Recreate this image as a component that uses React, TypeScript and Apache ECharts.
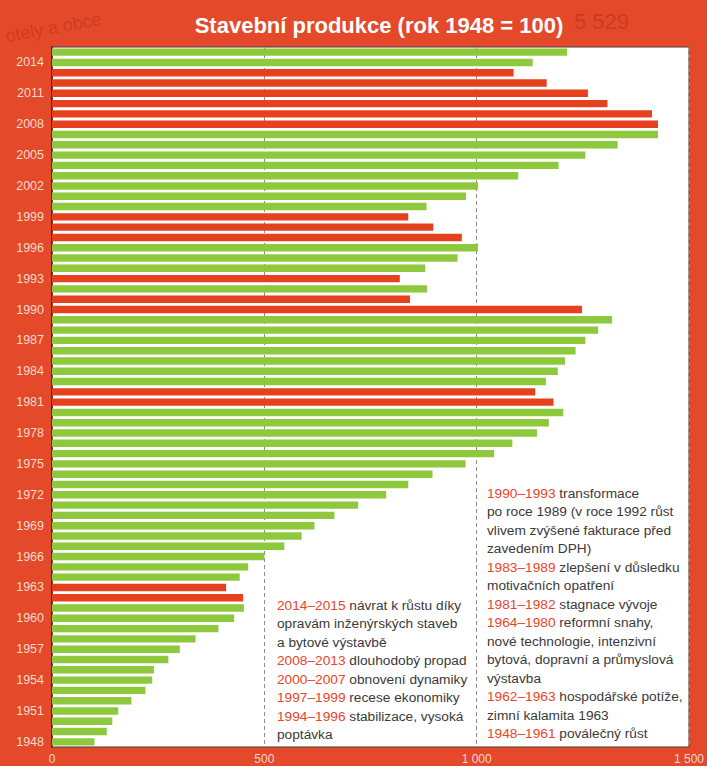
import React, { useEffect, useRef } from "react";
import * as echarts from "echarts";

const years: string[] = [];
for (let y = 1948; y <= 2015; y++) years.push(String(y));

// Stavební produkce, index 1948 = 100 (1948 .. 2015)
const values: number[] = [
  100, 129, 142, 156, 187, 220, 236, 240, 274, 301, // 1948-1957
  338, 392, 429, 452, 450, 410, 442, 462, 500, 547, // 1958-1967
  588, 618, 665, 721, 787, 839, 896, 974, 1041, 1084, // 1968-1977
  1142, 1170, 1204, 1181, 1138, 1163, 1191, 1208, 1233, 1256, // 1978-1987
  1286, 1319, 1248, 843, 883, 819, 879, 955, 1003, 965, // 1988-1997
  898, 839, 882, 975, 1003, 1098, 1193, 1256, 1332, 1427, // 1998-2007
  1427, 1413, 1308, 1262, 1165, 1087, 1132, 1213, // 2008-2015
];

// years drawn in red (decline)
const declineYears: number[] = [
  1962, 1963, 1981, 1982, 1990, 1991, 1993, 1997, 1998, 1999,
  2008, 2009, 2010, 2011, 2012, 2013,
];

const xTicks: number[] = [0, 500, 1000, 1500];

const notesLeft: [string, string][] = [
  ["2014–2015", " návrat k růstu díky"],
  ["", "opravám inženýrských staveb"],
  ["", "a bytové výstavbě"],
  ["2008–2013", " dlouhodobý propad"],
  ["2000–2007", " obnovení dynamiky"],
  ["1997–1999", " recese ekonomiky"],
  ["1994–1996", " stabilizace, vysoká"],
  ["", "poptávka"],
];

const notesRight: [string, string][] = [
  ["1990–1993", " transformace"],
  ["", "po roce 1989 (v roce 1992 růst"],
  ["", "vlivem zvýšené fakturace před"],
  ["", "zavedením DPH)"],
  ["1983–1989", " zlepšení v důsledku"],
  ["", "motivačních opatření"],
  ["1981–1982", " stagnace vývoje"],
  ["1964–1980", " reformní snahy,"],
  ["", "nové technologie, intenzivní"],
  ["", "bytová, dopravní a průmyslová"],
  ["", "výstavba"],
  ["1962–1963", " hospodářské potíže,"],
  ["", "zimní kalamita 1963"],
  ["1948–1961", " poválečný růst"],
];

const BG = "#e4492a";
const GREEN = "#8dc83d";
const RED = "#e5411e";
const NOTE_RED = "#e8452a";
const FONT = "'Liberation Sans Narrow', 'Liberation Sans', Arial, sans-serif";
const NOTE_SIZE = 13.7;

function noteText(lines: [string, string][]) {
  return lines
    .map(([a, b]) => (a ? `{r|${a}}{t|${b}}` : `{t|${b}}`))
    .join("\n");
}

export default function App() {
  const ref = useRef<HTMLDivElement>(null);
  useEffect(() => {
    document.body.style.margin = "0";
    const chart = echarts.init(ref.current!, undefined, { renderer: "svg" });
    const noteRich = {
      r: { fill: NOTE_RED, fontSize: NOTE_SIZE, fontFamily: FONT, lineHeight: 18.5 },
      t: { fill: "#3a3a3a", fontSize: NOTE_SIZE, fontFamily: FONT, lineHeight: 18.5 },
    };
    chart.setOption({
      animation: false,
      backgroundColor: BG,
      title: {
        text: "Stavební produkce (rok 1948 = 100)",
        left: 374,
        textAlign: "center",
        top: 9,
        textStyle: {
          color: "#ffffff",
          fontSize: 22,
          fontWeight: "bold",
          fontFamily: FONT,
        },
      },
      grid: {
        left: 52,
        top: 47,
        right: 11,
        bottom: 19,
        show: true,
        backgroundColor: "#ffffff",
        borderColor: "#4a3a36",
        borderWidth: 1,
      },
      xAxis: {
        type: "value",
        min: xTicks[0],
        max: xTicks[xTicks.length - 1],
        interval: xTicks[1] - xTicks[0],
        axisLine: { show: false },
        axisTick: { show: false },
        axisLabel: {
          color: "#f5d9cc",
          fontSize: 12,
          fontFamily: FONT,
          margin: 6,
          formatter: (v: number) => String(v).replace(/\B(?=(\d{3})+(?!\d))/g, " "),
        },
        splitLine: {
          show: true,
          lineStyle: { color: "#8a8a8a", type: [4, 3], width: 1 },
        },
      },
      yAxis: {
        type: "category",
        data: years,
        axisLine: { show: true, lineStyle: { color: "#3a2a26", width: 1.5 } },
        axisTick: { show: false },
        axisLabel: {
          color: "#f5d9cc",
          fontSize: 12.5,
          fontFamily: FONT,
          margin: 8,
          interval: (i: number) => i % 3 === 0,
        },
        splitLine: { show: false },
      },
      series: [
        {
          type: "bar",
          data: values,
          barCategoryGap: "28%",
          itemStyle: {
            color: (p: any) =>
              declineYears.includes(Number(years[p.dataIndex])) ? RED : GREEN,
          },
        },
      ],
      graphic: [
        {
          type: "text",
          left: 574,
          top: 10,
          silent: true,
          style: {
            text: "5 529",
            fill: "rgba(150,30,10,0.35)",
            fontSize: 22,
            fontFamily: FONT,
          },
        },
        {
          type: "text",
          left: 4,
          top: 10,
          rotation: 0.18,
          silent: true,
          style: {
            text: "otely a obce",
            fill: "rgba(150,30,10,0.3)",
            fontSize: 18,
            fontFamily: FONT,
          },
        },
        {
          type: "text",
          left: 277,
          top: 596,
          silent: true,
          style: {
            text: noteText(notesLeft),
            rich: noteRich,
            fontSize: NOTE_SIZE,
            fontFamily: FONT,
            lineHeight: 18.5,
            fill: "#3a3a3a",
          },
        },
        {
          type: "text",
          left: 487,
          top: 484,
          silent: true,
          style: {
            text: noteText(notesRight),
            rich: noteRich,
            fontSize: NOTE_SIZE,
            fontFamily: FONT,
            lineHeight: 18.5,
            fill: "#3a3a3a",
          },
        },
      ],
    });
    return () => chart.dispose();
  }, []);
  return (
    <div
      ref={ref}
      style={{ position: "fixed", left: 0, top: 0, width: 707, height: 766 }}
    />
  );
}
